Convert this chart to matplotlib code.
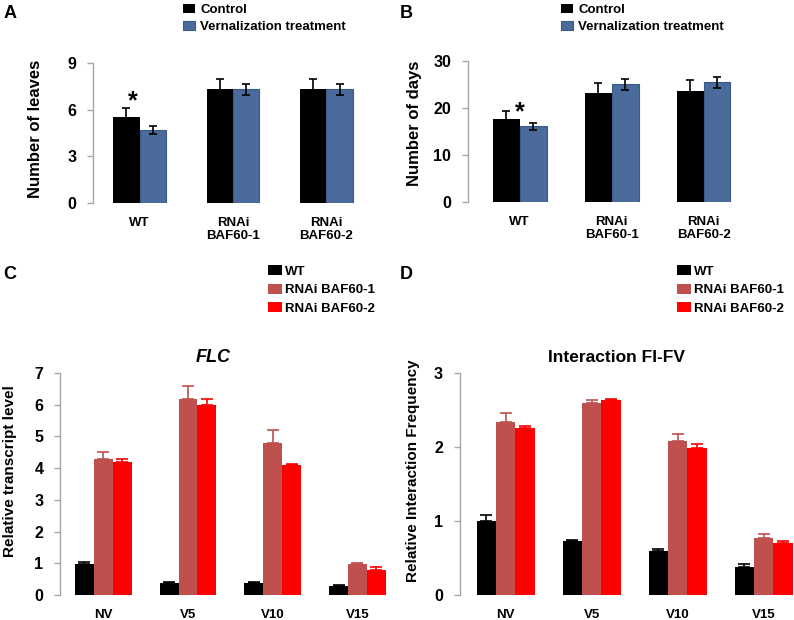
import matplotlib
matplotlib.use('Agg')
import matplotlib.pyplot as plt
import numpy as np

plt.rcParams['font.family'] = ['Liberation Sans', 'DejaVu Sans']
plt.rcParams['font.weight'] = 'bold'
plt.rcParams['axes.labelweight'] = 'bold'
plt.rcParams['axes.titleweight'] = 'bold'

# panel A / B data
genotypes = ['WT', 'RNAi\nBAF60-1', 'RNAi\nBAF60-2']
leaves_control = [5.5, 7.3, 7.3]
leaves_control_err = [0.58, 0.7, 0.7]
leaves_vern = [4.7, 7.3, 7.3]
leaves_vern_err = [0.24, 0.34, 0.34]

days_control = [17.6, 23.1, 23.6]
days_control_err = [1.7, 2.3, 2.3]
days_vern = [16.1, 25.05, 25.5]
days_vern_err = [0.8, 1.2, 1.2]

# panel C / D data
timepoints = ['NV', 'V5', 'V10', 'V15']
flc_wt = [0.99, 0.38, 0.39, 0.28]
flc_wt_err = [0.05, 0.03, 0.03, 0.03]
flc_rnai1 = [4.29, 6.19, 4.79, 0.97]
flc_rnai1_err = [0.22, 0.4, 0.42, 0.05]
flc_rnai2 = [4.2, 5.99, 4.09, 0.79]
flc_rnai2_err = [0.1, 0.2, 0.03, 0.1]

int_wt = [1.0, 0.73, 0.595, 0.374]
int_wt_err = [0.085, 0.02, 0.03, 0.045]
int_rnai1 = [2.34, 2.59, 2.08, 0.77]
int_rnai1_err = [0.12, 0.05, 0.1, 0.05]
int_rnai2 = [2.26, 2.63, 1.98, 0.70]
int_rnai2_err = [0.02, 0.02, 0.06, 0.035]

blue = '#4A6B9B'
brown = '#C0504D'
red = '#FF0000'
gray = '#A6A6A6'

fig = plt.figure(figsize=(7.94, 6.2), dpi=100)

axA = fig.add_axes([0.117, 0.6726, 0.353, 0.2258])
axB = fig.add_axes([0.589, 0.6742, 0.355, 0.2274])
axC = fig.add_axes([0.0756, 0.0403, 0.428, 0.3581])
axD = fig.add_axes([0.579, 0.0403, 0.4196, 0.3581])


def style_axis(ax, ticks, xlim):
    for s in ['top', 'right', 'bottom']:
        ax.spines[s].set_visible(False)
    ax.spines['left'].set_color(gray)
    ax.spines['left'].set_linewidth(1.0)
    ax.set_yticks(ticks)
    ax.set_ylim(ticks[0], ticks[-1])
    ax.set_xlim(xlim)
    ax.tick_params(axis='y', color=gray, length=4, width=1, pad=8, labelsize=11.5)
    ax.tick_params(axis='x', length=0, pad=10, labelsize=9.5)


# A
x = np.arange(len(genotypes))
w = 0.283
errkw = dict(ecolor='black', elinewidth=1.2, capsize=3, capthick=1.2)
ctrlA = axA.bar(x - w / 2, leaves_control, w, color='black', yerr=leaves_control_err, error_kw=errkw, label='Control')
vernA = axA.bar(x + w / 2, leaves_vern, w, color=blue, edgecolor='#3B5A87', linewidth=0.8,
                yerr=leaves_vern_err, error_kw=errkw, label='Vernalization treatment')
style_axis(axA, [0, 3, 6, 9], (-0.5, 2.5))
axA.set_xticks(x)
axA.set_xticklabels(genotypes, linespacing=1.1)
axA.set_ylabel('Number of leaves', fontsize=12)
axA.yaxis.set_label_coords(-0.178, 0.53)
axA.text(-0.07, 6.1, '*', fontsize=18, ha='center', va='baseline')

# B
w = 0.293
ctrlB = axB.bar(x - w / 2, days_control, w, color='black', yerr=days_control_err, error_kw=errkw, label='Control')
vernB = axB.bar(x + w / 2, days_vern, w, color=blue, edgecolor='#3B5A87', linewidth=0.8,
                yerr=days_vern_err, error_kw=errkw, label='Vernalization treatment')
style_axis(axB, [0, 10, 20, 30], (-0.565, 2.5))
axB.set_xticks(x)
axB.set_xticklabels(genotypes, linespacing=1.1)
axB.set_ylabel('Number of days', fontsize=12)
axB.yaxis.set_label_coords(-0.163, 0.56)
axB.text(0.0, 17.7, '*', fontsize=18, ha='center', va='baseline')


# C / D grouped bars with upper error bars only
def three_bars(ax, wt, wt_e, r1, r1_e, r2, r2_e):
    xx = np.arange(len(timepoints))
    bw = 0.224
    bars = []
    for off, vals, errs, col in [(-bw, wt, wt_e, 'black'), (0, r1, r1_e, brown), (bw, r2, r2_e, red)]:
        lower = np.zeros(len(errs))
        b = ax.bar(xx + off, vals, bw, color=col, yerr=[lower, errs],
                   error_kw=dict(ecolor=col, elinewidth=1.2, capsize=4, capthick=1.2))
        bars.append(b)
    ax.set_xticks(xx)
    ax.set_xticklabels(timepoints)
    return bars


barsC = three_bars(axC, flc_wt, flc_wt_err, flc_rnai1, flc_rnai1_err, flc_rnai2, flc_rnai2_err)
style_axis(axC, [0, 1, 2, 3, 4, 5, 6, 7], (-0.51, 3.5))
axC.set_ylabel('Relative transcript level', fontsize=11)
axC.yaxis.set_label_coords(-0.128, 0.56)
axC.set_title('FLC', fontstyle='italic', fontweight='bold', fontsize=13, x=0.45, pad=8)

barsD = three_bars(axD, int_wt, int_wt_err, int_rnai1, int_rnai1_err, int_rnai2, int_rnai2_err)
style_axis(axD, [0, 1, 2, 3], (-0.535, 3.34))
axD.set_ylabel('Relative Interaction Frequency', fontsize=11)
axD.yaxis.set_label_coords(-0.12, 0.56)
axD.set_title('Interaction FI-FV', fontweight='bold', fontsize=12.5, x=0.47, pad=8)

# legends
for h, xpos in [((ctrlA, vernA), 0.2305), ((ctrlB, vernB), 0.7066)]:
    fig.legend(h, ['Control', 'Vernalization treatment'], loc='upper left',
               bbox_to_anchor=(xpos, 0.994), frameon=False, fontsize=9.5,
               handlelength=0.9, handleheight=0.75, handletextpad=0.4,
               labelspacing=0.35, borderpad=0, borderaxespad=0)

for h, xpos in [(barsC, 0.3375), (barsD, 0.8526)]:
    fig.legend([b.patches[0] for b in h], ['WT', 'RNAi BAF60-1', 'RNAi BAF60-2'], loc='upper left',
               bbox_to_anchor=(xpos, 1 - 265 / 620), frameon=False, fontsize=9.5,
               handlelength=1.05, handleheight=0.8, handletextpad=0.25,
               labelspacing=0.45, borderpad=0, borderaxespad=0)

# panel letters
for lab, px, py in [('A', 0.004, 0.992), ('B', 0.504, 0.992), ('C', 0.004, 0.571), ('D', 0.504, 0.571)]:
    fig.text(px, py, lab, fontsize=13, fontweight='bold', va='top')

fig.savefig('out.png', dpi=100)
